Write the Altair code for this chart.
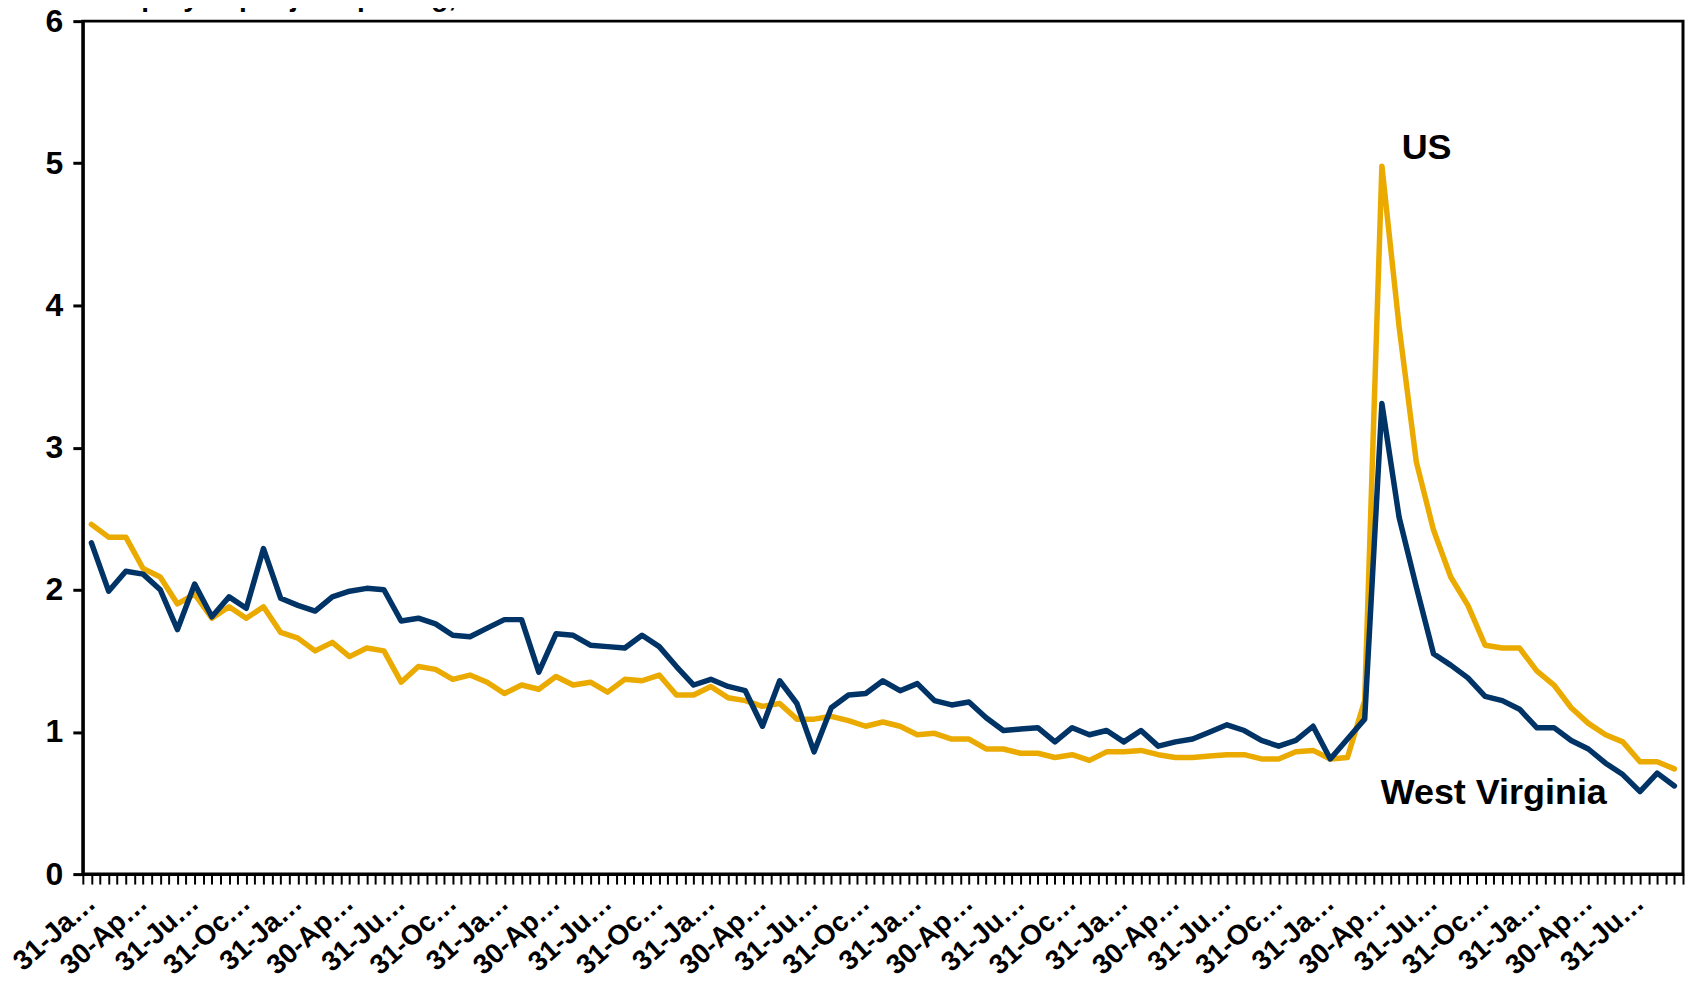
import altair as alt
import pandas as pd

# Month-end dates, Jan 2014 .. Sep 2021
dates = pd.date_range("2014-01-31", periods=93, freq="ME")
date_labels = [d.strftime("%d-%b-%Y") for d in dates]

us = [2.46, 2.37, 2.37, 2.15, 2.09, 1.90, 1.97, 1.80, 1.88, 1.80,
      1.88, 1.70, 1.66, 1.57, 1.63, 1.53, 1.59, 1.57, 1.35, 1.46,
      1.44, 1.37, 1.40, 1.35, 1.27, 1.33, 1.30, 1.39, 1.33, 1.35,
      1.28, 1.37, 1.36, 1.40, 1.26, 1.26, 1.32, 1.24, 1.22, 1.18,
      1.20, 1.09, 1.09, 1.11, 1.08, 1.04, 1.07, 1.04, 0.98, 0.99,
      0.95, 0.95, 0.88, 0.88, 0.85, 0.85, 0.82, 0.84, 0.80, 0.86,
      0.86, 0.87, 0.84, 0.82, 0.82, 0.83, 0.84, 0.84, 0.81, 0.81,
      0.86, 0.87, 0.81, 0.82, 1.22, 4.98, 3.85, 2.90, 2.42, 2.09,
      1.89, 1.61, 1.59, 1.59, 1.43, 1.33, 1.17, 1.06, 0.98, 0.93,
      0.79, 0.79, 0.74]

wv = [2.33, 1.99, 2.13, 2.11, 2.00, 1.72, 2.04, 1.81, 1.95, 1.87,
      2.29, 1.94, 1.89, 1.85, 1.95, 1.99, 2.01, 2.00, 1.78, 1.80,
      1.76, 1.68, 1.67, 1.73, 1.79, 1.79, 1.42, 1.69, 1.68, 1.61,
      1.60, 1.59, 1.68, 1.60, 1.46, 1.33, 1.37, 1.32, 1.29, 1.04,
      1.36, 1.20, 0.86, 1.17, 1.26, 1.27, 1.36, 1.29, 1.34, 1.22,
      1.19, 1.21, 1.10, 1.01, 1.02, 1.03, 0.93, 1.03, 0.98, 1.01,
      0.93, 1.01, 0.90, 0.93, 0.95, 1.00, 1.05, 1.01, 0.94, 0.90,
      0.94, 1.04, 0.81, 0.95, 1.09, 3.31, 2.51, 2.02, 1.55, 1.47,
      1.38, 1.25, 1.22, 1.16, 1.03, 1.03, 0.94, 0.88, 0.78, 0.70,
      0.58, 0.71, 0.62]

series_names = ["US", "West Virginia"]
series_colors = ["#EAAA00", "#003366"]

annot_text = ["US", "West Virginia"]
annot_idx = [76.15, 74.93]
annot_val = [5.03, 0.49]

y_title = "Number of unemployed per job opening, Ratio"
y_ticks = [0, 1, 2, 3, 4, 5, 6]

rows = []
for i, (d, u, w) in enumerate(zip(date_labels, us, wv)):
    rows.append({"idx": i, "date": d, "series": "US", "value": u})
    rows.append({"idx": i, "date": d, "series": "West Virginia", "value": w})
df = pd.DataFrame(rows)

annot_df = pd.DataFrame({"label": annot_text, "idx": annot_idx, "value": annot_val})

n = len(date_labels)
tick_values = [k / 2 - 0.5 for k in range(2 * n + 1)]
js_labels = "[" + ",".join("'%s'" % s for s in date_labels) + "]"
label_expr = (
    "(datum.value % 3 == 0) ? substring(" + js_labels
    + "[datum.value], 0, 5) + '\u2026' : ''"
)

FONT = "Liberation Sans"
x_scale = alt.Scale(domain=[-0.5, n - 0.5], nice=False, zero=False)
y_scale = alt.Scale(domain=[0, 6], nice=False, zero=True)

x_enc = alt.X(
    "idx:Q",
    scale=x_scale,
    axis=alt.Axis(
        values=tick_values,
        tickCount=400,
        labelExpr=label_expr,
        title=None,
    ),
)

y_enc = alt.Y(
    "value:Q",
    scale=y_scale,
    axis=alt.Axis(
        values=y_ticks,
        tickCount=50,
        format="d",
        title=None,
    ),
)

lines = alt.Chart(df).mark_line(
    strokeWidth=5.5, strokeCap="round", strokeJoin="round"
).encode(
    x=x_enc,
    y=y_enc,
    color=alt.Color(
        "series:N",
        scale=alt.Scale(domain=series_names, range=series_colors),
        legend=None,
    ),
    order=alt.Order("idx:Q"),
)

annots = alt.Chart(annot_df).mark_text(
    align="left", baseline="alphabetic", font=FONT, fontSize=36,
    fontWeight="bold", color="black"
).encode(
    x=alt.X("idx:Q"),
    y=alt.Y("value:Q"),
    text="label:N",
)

title_txt = alt.Chart(pd.DataFrame({"t": [y_title]})).mark_text(
    align="right", baseline="alphabetic", font=FONT, fontSize=28,
    fontWeight="bold", color="black"
).encode(
    x=alt.value(452),
    y=alt.value(-15),
    text="t:N",
)

chart = alt.layer(lines, annots, title_txt).properties(
    width=1604,
    height=855,
    autosize=alt.AutoSizeParams(type="none"),
    padding={"left": 75, "top": 12, "right": 3, "bottom": 105},
    background="white",
).configure_view(
    stroke="black", strokeWidth=3
).configure_axis(
    grid=False,
    domainColor="black",
    domainWidth=3,
    tickColor="black",
    labelColor="black",
    labelFont=FONT,
    labelFontWeight="bold",
    labelOverlap=False,
).configure_axisX(
    labelAngle=-42,
    labelAlign="right",
    labelBaseline="middle",
    labelFontSize=28,
    labelPadding=15,
    labelFlush=False,
    labelBound=False,
    tickSize=10,
    tickWidth=2,
).configure_axisY(
    labelFontSize=32,
    labelPadding=10,
    tickSize=10,
    tickWidth=3,
)

chart.save("out.html", embed_options={"renderer": "svg", "actions": False})
